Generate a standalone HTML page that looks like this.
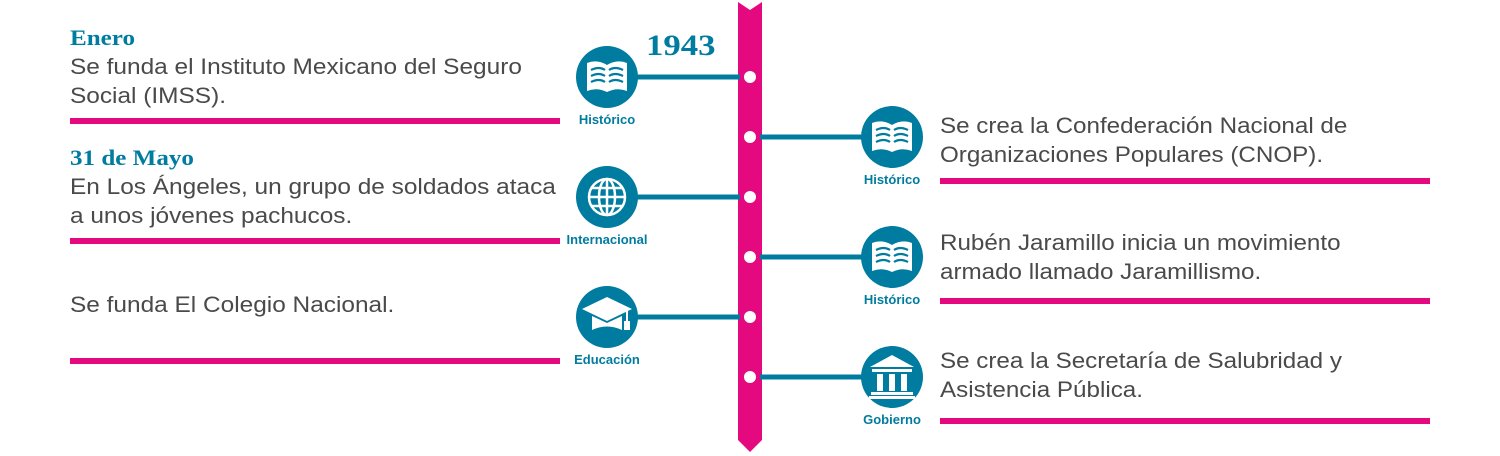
<!DOCTYPE html>
<html><head><meta charset="utf-8"><style>
html,body{margin:0;padding:0;background:#fff;}
svg{display:block}
.b{font-family:"Liberation Sans",sans-serif;font-size:22px;fill:#4a4a4a}
.t{font-family:"Liberation Serif",serif;font-weight:bold;font-size:22px;fill:#007ca0}
.l{font-family:"Liberation Sans",sans-serif;font-weight:bold;font-size:13px;fill:#007ca0;text-anchor:middle}
</style></head><body>
<svg width="1500" height="456" viewBox="0 0 1500 456">
<defs>
<g id="book">
<path d="M-20,-14 Q-10,-18 0,-12 Q10,-18 20,-14 L20,14 Q10,10 0,15 Q-10,10 -20,14 Z" fill="#fff"/>
<path d="M-16,-7 Q-8,-11 -2,-7 M-16,-1 Q-8,-5 -2,-1 M-16,5 Q-8,1 -2,5 M2,-7 Q8,-11 16,-7 M2,-1 Q8,-5 16,-1 M2,5 Q8,1 16,5" stroke="#007ca0" stroke-width="2.2" fill="none"/>
</g>
</defs>
<polygon points="738,2 750,10 762,2 762,440 750,452 738,440" fill="#e5097f"/>
<g stroke="#007ca0" stroke-width="5">
<line x1="630" y1="77" x2="740" y2="77"/>
<line x1="630" y1="197" x2="740" y2="197"/>
<line x1="630" y1="317" x2="740" y2="317"/>
<line x1="760" y1="137" x2="870" y2="137"/>
<line x1="760" y1="257" x2="870" y2="257"/>
<line x1="760" y1="377" x2="870" y2="377"/>
</g>
<g fill="#fff">
<circle cx="750" cy="77" r="6"/><circle cx="750" cy="137" r="6"/><circle cx="750" cy="197" r="6"/>
<circle cx="750" cy="257" r="6"/><circle cx="750" cy="317" r="6"/><circle cx="750" cy="377" r="6"/>
</g>
<g fill="#007ca0">
<circle cx="607" cy="77" r="31"/><circle cx="607" cy="197" r="31"/><circle cx="607" cy="317" r="31"/>
<circle cx="892" cy="137" r="31"/><circle cx="892" cy="257" r="31"/><circle cx="892" cy="377" r="31"/>
</g>
<use href="#book" x="607" y="77"/>
<use href="#book" x="892" y="137"/>
<use href="#book" x="892" y="257"/>
<g transform="translate(607,197)" fill="none" stroke="#fff" stroke-width="2.5">
<circle r="18"/><ellipse rx="8" ry="18"/><line x1="0" y1="-18" x2="0" y2="18"/>
<line x1="-18" y1="0" x2="18" y2="0"/><line x1="-15" y1="-9" x2="15" y2="-9"/><line x1="-15" y1="9" x2="15" y2="9"/>
</g>
<g transform="translate(607,317)" fill="#fff">
<polygon points="-25,-8 0,-20 25,-8 0,4"/>
<path d="M-15,-1 L0,6 L15,-1 L15,13 Q0,6 -15,13 Z"/>
<rect x="19" y="-6" width="2" height="12"/><rect x="17" y="4" width="6" height="9"/>
</g>
<g transform="translate(892,377)" fill="#fff">
<polygon points="-22,-10 0,-22 22,-10"/>
<rect x="-20" y="-8" width="40" height="3"/>
<rect x="-15" y="-3" width="6" height="17"/><rect x="-3" y="-3" width="6" height="17"/><rect x="9" y="-3" width="6" height="17"/>
<rect x="-21" y="15" width="42" height="3"/><rect x="-23" y="19" width="46" height="3"/>
</g>
<g style="font-size:13.5px">
<text class="l" x="607" y="124">Histórico</text>
<text class="l" x="607" y="244">Internacional</text>
<text class="l" x="607" y="364">Educación</text>
<text class="l" x="892" y="184">Histórico</text>
<text class="l" x="892" y="304">Histórico</text>
<text class="l" x="892" y="424">Gobierno</text>
</g>
<g transform="translate(646,0) scale(1.16,1) translate(-646,0)">
<text class="t" x="646" y="55" style="font-size:30px">1943</text>
</g>
<g fill="#e5097f">
<rect x="70" y="118" width="490" height="6"/><rect x="70" y="238" width="490" height="6"/><rect x="70" y="358" width="490" height="6"/>
<rect x="940" y="178" width="490" height="6"/><rect x="940" y="298" width="490" height="6"/><rect x="940" y="418" width="490" height="6"/>
</g>
<g transform="translate(70,0) scale(1.14,1) translate(-70,0)">
<text class="t" x="70" y="45">Enero</text>
<text class="t" x="70" y="165">31 de Mayo</text>
</g>
<g transform="translate(70,0) scale(1.11,1) translate(-70,0)">
<text class="b" x="70" y="74">Se funda el Instituto Mexicano del Seguro</text>
<text class="b" x="70" y="103">Social (IMSS).</text>
<text class="b" x="70" y="194">En Los Ángeles, un grupo de soldados ataca</text>
<text class="b" x="70" y="223">a unos jóvenes pachucos.</text>
<text class="b" x="70" y="312">Se funda El Colegio Nacional.</text>
</g>
<g transform="translate(940,0) scale(1.1,1) translate(-940,0)">
<text class="b" x="940" y="133">Se crea la Confederación Nacional de</text>
<text class="b" x="940" y="162">Organizaciones Populares (CNOP).</text>
<text class="b" x="940" y="250">Rubén Jaramillo inicia un movimiento</text>
<text class="b" x="940" y="279">armado llamado Jaramillismo.</text>
<text class="b" x="940" y="368">Se crea la Secretaría de Salubridad y</text>
<text class="b" x="940" y="397">Asistencia Pública.</text>
</g>
</svg>
</body></html>
